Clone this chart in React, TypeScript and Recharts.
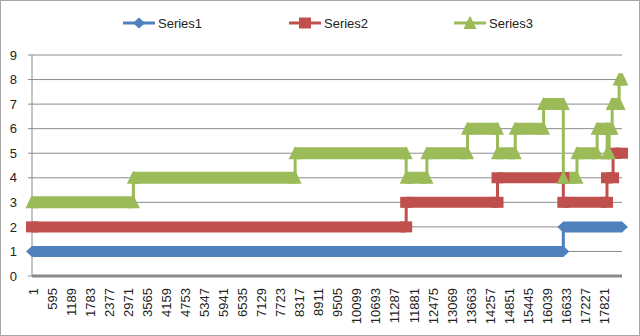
import React from 'react';
import { LineChart, Line, XAxis, YAxis, CartesianGrid } from 'recharts';

// ---- data ----
const xTicks = [1, 595, 1189, 1783, 2377, 2971, 3565, 4159, 4753, 5347, 5941, 6535, 7129, 7723, 8317, 8911, 9505, 10099, 10693, 11287, 11881, 12475, 13069, 13663, 14257, 14851, 15445, 16039, 16633, 17227, 17821];
const yTicks = [0, 1, 2, 3, 4, 5, 6, 7, 8, 9];
const lastIndex = 18400;

const series1Starts = [1, 16570];
const series1Values = [1, 2];

const series2Starts = [1, 11670, 14518, 16570, 17932, 18122];
const series2Values = [2, 3, 4, 3, 4, 5];

const series3Starts = [1, 3162, 8207, 11670, 12316, 13583, 14518, 15071, 15954, 16570, 16996, 17625, 17937, 18000, 18093, 18311];
const series3Values = [3, 4, 5, 4, 5, 6, 5, 6, 7, 4, 5, 6, 5, 6, 7, 8];

const seriesNames = ['Series1', 'Series2', 'Series3'];
const colors = ['#4F81BD', '#C0504D', '#9BBB59'];

type Pt = { x: number; y: number | null };

function stepData(starts: number[], values: number[]): Pt[] {
  const pts: Pt[] = starts.map((x, i) => ({ x, y: values[i] }));
  pts.push({ x: lastIndex, y: values[values.length - 1] });
  return pts;
}

function bandData(starts: number[], values: number[]): Pt[] {
  const pts: Pt[] = [];
  starts.forEach((x0, i) => {
    const x1 = i + 1 < starts.length ? starts[i + 1] : lastIndex;
    pts.push({ x: x0, y: values[i] });
    pts.push({ x: x1, y: values[i] });
    pts.push({ x: x1, y: null });
  });
  return pts;
}

const FONT = '"Liberation Sans", Arial, sans-serif';

function marker(kind: number, cx: number, cy: number, color: string, key?: string) {
  if (kind === 0) {
    const r = 6;
    return <polygon key={key} points={`${cx - r},${cy} ${cx},${cy - 5.5} ${cx + r},${cy} ${cx},${cy + 5.5}`} fill={color} />;
  }
  if (kind === 1) {
    return <rect key={key} x={cx - 6} y={cy - 5.5} width={12} height={11} fill={color} />;
  }
  return <polygon key={key} points={`${cx - 0.5},${cy - 6.5} ${cx + 0.5},${cy - 6.5} ${cx + 6.5},${cy + 6} ${cx - 6.5},${cy + 6}`} fill={color} />;
}

function makeDot(kind: number, color: string) {
  return (props: any) => {
    const { cx, cy, index } = props;
    const key = `d-${kind}-${index}`;
    if (cy == null || cx == null || Number.isNaN(cy) || props.value == null || (Array.isArray(props.value) && props.value[1] == null)) {
      return <g key={key} />;
    }
    if (props.payload && props.payload.y == null) return <g key={key} />;
    return marker(kind, cx, cy, color, key);
  };
}

const XTick = (props: any) => {
  const { x, y, payload } = props;
  return (
    <text
      x={x + 1}
      y={y}
      transform={`rotate(-90 ${x + 1} ${y})`}
      textAnchor="end"
      dy="0.35em"
      fontSize={13}
      fontFamily={FONT}
      fill="#222"
    >
      {payload.value}
    </text>
  );
};

const Legend = () => {
  const xs = [123, 289, 454];
  const y = 23;
  return (
    <svg width={640} height={40} style={{ position: 'absolute', left: 0, top: 0 }}>
      {seriesNames.map((n, i) => (
        <g key={n}>
          <line x1={xs[i]} x2={xs[i] + 32} y1={y} y2={y} stroke={colors[i]} strokeWidth={3} />
          {marker(i, xs[i] + 16, y, colors[i])}
          <text x={xs[i] + 35} y={y} dy="0.35em" fontSize={13} fontFamily={FONT} fill="#222">{n}</text>
        </g>
      ))}
    </svg>
  );
};

export default function App() {
  const all = [
    [series1Starts, series1Values],
    [series2Starts, series2Values],
    [series3Starts, series3Values],
  ] as const;
  const bandWidths = [11, 11, 12];
  return (
    <div style={{ position: 'absolute', left: 0, top: 0, width: 640, height: 336, background: '#fff' }}>
      <LineChart width={640} height={336} margin={{ top: 55, right: 18, left: 0, bottom: 0 }}>
        <CartesianGrid horizontal vertical={false} stroke="#8c8c8c" />
        <XAxis
          type="number"
          dataKey="x"
          domain={[1, lastIndex]}
          ticks={xTicks}
          interval={0}
          tickLine={false}
          tickSize={0}
          tickMargin={12}
          axisLine={{ stroke: '#8a8a8a', strokeWidth: 3 }}
          tick={<XTick />}
          height={60}
        />
        <YAxis
          type="number"
          domain={[0, 9]}
          ticks={yTicks}
          interval={0}
          width={32}
          tickSize={4}
          tickMargin={11}
          tickLine={{ stroke: '#8a8a8a' }}
          axisLine={{ stroke: '#8a8a8a' }}
          tick={{ fontSize: 13, fontFamily: FONT, fill: '#222' }}
        />
        {all.map(([starts, values], i) => [
          <Line
            key={`c${i}`}
            data={stepData(starts as number[], values as number[])}
            dataKey="y"
            type="stepAfter"
            stroke={colors[i]}
            strokeWidth={3}
            dot={false}
            activeDot={false}
            isAnimationActive={false}
            legendType="none"
            name={`${seriesNames[i]}-step`}
          />,
          <Line
            key={`b${i}`}
            data={bandData(starts as number[], values as number[])}
            dataKey="y"
            type="linear"
            stroke={colors[i]}
            strokeWidth={bandWidths[i]}
            dot={makeDot(i, colors[i])}
            activeDot={false}
            connectNulls={false}
            isAnimationActive={false}
            name={seriesNames[i]}
          />,
        ])}
      </LineChart>
      <Legend />
      <div style={{ position: 'absolute', left: 0, top: 0, width: 640, height: 336, boxSizing: 'border-box', border: '1px solid #a6a6a6', pointerEvents: 'none' }} />
    </div>
  );
}
